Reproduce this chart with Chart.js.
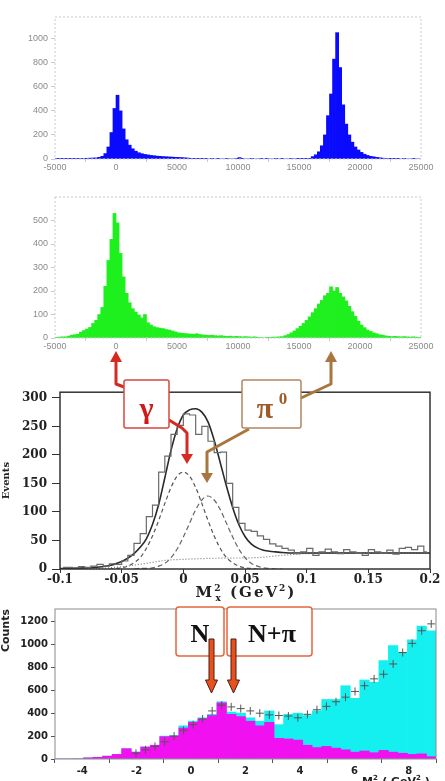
<!DOCTYPE html>
<html>
<head>
<meta charset="utf-8">
<script src="https://cdn.jsdelivr.net/npm/chart.js@4.4.0/dist/chart.umd.min.js"></script>
<style>
html, body { margin:0; padding:0; background:#fff; width:445px; height:781px; overflow:hidden; position:relative; }
canvas { position:absolute; left:0; }
#c1 { top:0; }
#c2 { top:180px; }
#c3 { top:380px; }
#c4 { top:600px; }
svg { position:absolute; left:0; top:0; }
</style>
</head>
<body>
<canvas id="c1" width="445" height="176"></canvas>
<canvas id="c2" width="445" height="176"></canvas>
<canvas id="c3" width="445" height="225"></canvas>
<canvas id="c4" width="445" height="181"></canvas>

<svg width="445" height="781" viewBox="0 0 445 781">
  <!-- gamma / pi0 call-outs -->
  <g fill="none" stroke-linejoin="round" stroke-width="3">
    <path d="M124,387 L116,384 L116,360" stroke="#d42a22"/>
    <path d="M169,420 L182,428 L187,433 L187,455" stroke="#d42a22"/>
    <path d="M301,398 L331,384 L331,360" stroke="#a8763e"/>
    <path d="M249,429 L207,452 L207,474" stroke="#a8763e"/>
  </g>
  <polygon points="110,362 122,362 116,351" fill="#d42a22"/>
  <polygon points="181,454 193,454 187,464" fill="#d42a22"/>
  <polygon points="325,362 337,362 331,351" fill="#a8763e"/>
  <polygon points="201,473 213,473 207,483" fill="#a8763e"/>
  <rect x="124" y="380" width="45" height="48" rx="2" fill="#fff" stroke="#d8483e" stroke-width="1.5"/>
  <text x="146.5" y="418" text-anchor="middle" font-family="Liberation Serif" font-weight="bold" font-size="30" fill="#d01818">γ</text>
  <rect x="242" y="380" width="59" height="48" rx="2" fill="#fff" stroke="#b08660" stroke-width="1.5"/>
  <text x="265" y="418" text-anchor="middle" font-family="Liberation Serif" font-weight="bold" font-size="30" fill="#9c5c28">π</text>
  <text x="283" y="404" text-anchor="middle" font-family="Liberation Serif" font-weight="bold" font-size="17" fill="#9c5c28">0</text>

  <!-- axis title panel 3 -->
  <text x="246" y="597" text-anchor="middle" font-family="DejaVu Serif" font-weight="bold" font-size="15" letter-spacing="2" fill="#222">M<tspan font-size="9" dy="-6">2</tspan><tspan font-size="9" dx="-7" dy="10">x</tspan><tspan dy="-4"> (GeV</tspan><tspan font-size="9" dy="-6">2</tspan><tspan dy="6">)</tspan></text>

  <!-- N / N+pi call-outs -->
  <rect x="176" y="607" width="48" height="49" rx="3" fill="#fff" stroke="#e5653e" stroke-width="1.5"/>
  <rect x="227" y="607" width="85" height="49" rx="3" fill="#fff" stroke="#e5653e" stroke-width="1.5"/>
  <text x="200" y="642" text-anchor="middle" font-family="Liberation Serif" font-weight="bold" font-size="26" fill="#111">N</text>
  <text x="272" y="642" text-anchor="middle" font-family="Liberation Serif" font-weight="bold" font-size="26" fill="#111">N+π</text>
  <polygon points="209,639 214,639 214,680 217.5,680 211.5,693 205.5,680 209,680" fill="#e8501e" stroke="#4a1d0e" stroke-width="1"/>
  <polygon points="231,639 236,639 236,680 239.5,680 233.5,693 227.5,680 231,680" fill="#e8501e" stroke="#4a1d0e" stroke-width="1"/>

  <!-- axis title panel 4 (cut at bottom edge) -->
  <text x="362" y="785" font-family="DejaVu Sans" font-weight="bold" font-size="11" fill="#222">M<tspan font-size="7" dy="-5">2</tspan><tspan font-size="7" dx="-4" dy="8">x</tspan><tspan dy="-3"> ( GeV</tspan><tspan font-size="7" dy="-5">2</tspan><tspan dy="5"> )</tspan></text>
</svg>

<script>
// --- panels 1 and 2: missing mass histograms, 250-wide bins from -5000 to 25000 ---
const binStart12 = -5000;
const binWidth12 = 250;
const blueCounts = [1,1,1,2,2,2,3,3,
    4,5,6,7, 8,9,14,22, 45,100,220,420, 530,400,250,160,
    115,85,65,52, 44,38,34,30, 27,24,22,20, 19,17,16,14,
    13,12,10,8, 3,2,1,1, 1,1,0,1, 0,1,0,0,
    1,0,0,1, 12,1,0,0, 1,0,0,1, 0,1,0,0,
    1,0,1,0, 0,1,0,1, 1,1,2,3, 20,35,60,110,
    200,360,540,830, 1050,760,450,290, 200,140,100,75, 55,40,30,22,
    18,14,10,7, 4,2,1,1, 1,0,1,0, 0,1,0,0];
const greenCounts = [3,4,5,5, 8,12,14,16, 25,32,38,45, 62,75,100,130,
    220,330,420,530, 490,360,260,190, 150,125,110,98, 85,100,65,55,
    48,44,42,40, 36,34,30,26, 22,20,19,18, 17,16,18,15,
    13,12,11,12, 10,9,10,8, 7,8,6,7, 6,5,6,5,
    4,5,3,2, 0,3,3,4, 4,5,6,10, 15,22,30,40,
    50,62,75,90, 108,125,145,160, 180,190,218,200, 215,190,175,158,
    135,112,92,72, 55,44,34,28, 22,18,14,12, 9,7,6,7,
    6,5,6,5, 4,5,4,3];
const xTicks12 = [-5000,0,5000,10000,15000,20000,25000];
const yTicks1 = [0,200,400,600,800,1000];
const yTicks2 = [0,100,200,300,400,500];

// --- panel 3: M_x^2 (GeV^2) fit ---
const histStart3 = -0.1;
const histWidth3 = 0.005;
const histCounts3 = [3,3,2,4,3,5,8,5,9,8, 14,24,45,62,92,112,170,198,236,252,
    272,270,236,250,224,204,205,150,108,80, 68,66,58,52,44,40,36,33,27,30,
    36,24,30,35,30,27,34,30,28,24, 34,30,28,33,26,36,38,34,40,30];
const fitX = [-0.1,-0.09,-0.08,-0.07,-0.06,-0.055,-0.05,-0.045,-0.04,-0.035,
    -0.03,-0.025,-0.02,-0.015,-0.01,-0.005,0,0.005,0.01,0.015,
    0.02,0.025,0.03,0.035,0.04,0.045,0.05,0.055,0.06,0.065,
    0.07,0.075,0.08,0.09,0.1,0.12,0.14,0.16,0.18,0.2];
const fitTotal = [1,1,2,3,6,9,13,19,27,38, 53,78,113,160,208,246,270,279,281,275,
    258,226,186,145,108,78,57,44,37,33, 31,30,29,28,28,28,28,28,28,28];
const fitGamma = [null,null,null,null,0,1,2,5,11,20, 36,58,85,115,143,163,170,163,143,115,
    85,58,36,20,11,5,2,1,0,null, null,null,null,null,null,null,null,null,null,null];
const fitPi0 = [null,null,null,null,null,null,null,null,0,1, 1,2,5,10,20,35,56,80,104,121,
    128,121,104,80,56,35,20,10,5,2, 1,0,0,null,null,null,null,null,null,null];
const bgX = [-0.1,-0.07,-0.05,-0.03,-0.015,0,0.03,0.06,0.08,0.1,0.15,0.2];
const bgY = [0,1,4,10,15,17,19,20,24,27,28,28];
const xTicks3 = [-0.1,-0.05,0,0.05,0.1,0.15,0.2];
const yTicks3 = [0,50,100,150,200,250,300];

// --- panel 4: counts vs M_x^2, bins of 0.35 from -5 to 9 ---
const binStart4 = -5;
const binWidth4 = 0.35;
const cyanCounts = [0,0,5,10,15,25,40,90,60,105, 120,200,205,290,330,360,390,500,410,400,
    360,330,420,300,390,400,380,420,520,520, 640,530,690,670,860,990,930,1040,1160,1120];
const magentaCounts = [0,0,0,10,15,25,40,90,60,105, 120,195,200,270,320,350,380,490,390,370,
    330,290,320,180,175,165,120,100,110,95, 80,60,70,55,75,60,50,40,45,20];
const crossCounts = [null,null,null,null,null,null,null,null,50,80, 110,150,200,250,300,350,420,470,455,440,
    420,400,385,380,375,360,390,430,460,500, 540,590,640,700,740,830,930,1010,1120,1180];
const xTicks4 = [-4,-2,0,2,4,6,8];
const yTicks4 = [0,200,400,600,800,1000,1200];

function binned(start, width, counts) {
    return counts.map((c, i) => ({x: start + width * (i + 0.5), y: c}));
}
function pairs(xs, ys) {
    return xs.map((x, i) => ({x: x, y: ys[i]}));
}
function fixedSize(size) {
    return s => { if (s.isHorizontal()) s.height = size; else s.width = size; };
}
function useTicks(list) {
    return s => { s.ticks = list.map(v => ({value: v})); };
}

// frame round the plot area
const framePlugin = {
    id: 'frame',
    afterDatasetsDraw(chart, args, opts) {
        const {ctx, chartArea: a} = chart;
        ctx.save();
        ctx.strokeStyle = opts.color;
        ctx.lineWidth = opts.width;
        ctx.setLineDash(opts.dash || []);
        ctx.strokeRect(a.left, a.top, a.right - a.left, a.bottom - a.top);
        ctx.restore();
    }
};

const base = {responsive:false, animation:false, devicePixelRatio:1};
const quiet = {legend:{display:false}, tooltip:{enabled:false}};

function histPanel(id, counts, color, yMax, yTicks, xHeight) {
    const lightFont = {family:'Liberation Sans', size:9};
    return new Chart(document.getElementById(id), {
        type: 'bar',
        data: {datasets: [{
            data: binned(binStart12, binWidth12, counts),
            backgroundColor: color, borderWidth: 0,
            barPercentage: 1, categoryPercentage: 1
        }]},
        options: {
            ...base,
            layout: {padding: {top:17, right:24, left:0, bottom:0}},
            plugins: {...quiet, frame: {color:'#c9c9d6', width:1, dash:[2,2]}},
            scales: {
                x: {type:'linear', min:-5000, max:25000, offset:false,
                    afterBuildTicks: useTicks(xTicks12), afterFit: fixedSize(xHeight),
                    border: {display:false},
                    grid: {drawOnChartArea:false, tickLength:3, color:'#c9c9d6'},
                    ticks: {font: lightFont, color:'#8a8a8a', padding:0, autoSkip:false, maxRotation:0,
                            callback: v => String(v)}},
                y: {min:0, max:yMax,
                    afterBuildTicks: useTicks(yTicks), afterFit: fixedSize(55),
                    border: {display:false},
                    grid: {drawOnChartArea:false, tickLength:4, color:'#c9c9d6'},
                    ticks: {font: lightFont, color:'#8a8a8a', padding:3, callback: v => String(v)}}
            }
        },
        plugins: [framePlugin]
    });
}

histPanel('c1', blueCounts, '#0a0aff', 1180, yTicks1, 17);
histPanel('c2', greenCounts, '#1ef01e', 600, yTicks2, 18);

// panel 3
const serifFont = {family:'DejaVu Serif', weight:'bold', size:12};
new Chart(document.getElementById('c3'), {
    type: 'line',
    data: {datasets: [
        {data: binned(histStart3, histWidth3, histCounts3), stepped:'middle',
         borderColor:'#6a6a6a', borderWidth:1.2, pointRadius:0},
        {data: pairs(fitX, fitTotal), cubicInterpolationMode:'monotone',
         borderColor:'#2a2a2a', borderWidth:1.6, pointRadius:0},
        {data: pairs(fitX, fitGamma), cubicInterpolationMode:'monotone', spanGaps:false,
         borderColor:'#555', borderWidth:1.2, borderDash:[4,3], pointRadius:0},
        {data: pairs(fitX, fitPi0), cubicInterpolationMode:'monotone', spanGaps:false,
         borderColor:'#666', borderWidth:1.2, borderDash:[5,3], pointRadius:0},
        {data: pairs(bgX, bgY), cubicInterpolationMode:'monotone',
         borderColor:'#777', borderWidth:1.2, borderDash:[1,2], pointRadius:0}
    ]},
    options: {
        ...base,
        layout: {padding: {top:12, right:15, left:0, bottom:0}},
        plugins: {...quiet, frame: {color:'#333', width:1.5}},
        scales: {
            x: {type:'linear', min:-0.1, max:0.2,
                afterBuildTicks: useTicks(xTicks3), afterFit: fixedSize(36),
                border: {display:false},
                grid: {drawOnChartArea:false, tickLength:4, color:'#333'},
                ticks: {font: serifFont, color:'#222', padding:0, autoSkip:false, maxRotation:0,
                        callback: v => String(Math.round(v * 100) / 100)}},
            y: {min:0, max:310,
                afterBuildTicks: useTicks(yTicks3), afterFit: fixedSize(60),
                border: {display:false},
                grid: {drawOnChartArea:false, tickLength:8, color:'#333'},
                ticks: {font: serifFont, color:'#222', padding:5},
                title: {display:true, text:'Events', padding:0,
                        font:{family:'DejaVu Serif', weight:'bold', size:10}, color:'#222'}}
        }
    },
    plugins: [framePlugin]
});

// panel 4
const boldSans = {family:'DejaVu Sans', weight:'bold', size:10};
new Chart(document.getElementById('c4'), {
    type: 'bar',
    data: {datasets: [
        {type:'line', data: binned(binStart4, binWidth4, crossCounts), showLine:false,
         pointStyle:'cross', pointRadius:4, borderColor:'#555', borderWidth:1, order:0},
        {data: binned(binStart4, binWidth4, magentaCounts), backgroundColor:'#f010f0',
         borderWidth:0, grouped:false, barPercentage:1, categoryPercentage:1, order:1},
        {data: binned(binStart4, binWidth4, cyanCounts), backgroundColor:'#14f0f0',
         borderWidth:0, grouped:false, barPercentage:1, categoryPercentage:1, order:2}
    ]},
    options: {
        ...base,
        layout: {padding: {top:8, right:9, left:0, bottom:0}},
        plugins: {...quiet, frame: {color:'#8a8a8a', width:1}},
        scales: {
            x: {type:'linear', min:-5, max:9, offset:false,
                afterBuildTicks: useTicks(xTicks4), afterFit: fixedSize(22),
                border: {display:false},
                grid: {drawOnChartArea:false, tickLength:4, color:'#555'},
                ticks: {font: boldSans, color:'#222', padding:2, autoSkip:false, maxRotation:0,
                        callback: v => String(v)}},
            y: {min:0, max:1310,
                afterBuildTicks: useTicks(yTicks4), afterFit: fixedSize(55),
                border: {display:false},
                grid: {drawOnChartArea:false, tickLength:4, color:'#555'},
                ticks: {font: boldSans, color:'#222', padding:3, callback: v => String(v)},
                title: {display:true, text:'Counts', align:'end', padding:0,
                        font:{family:'DejaVu Sans', weight:'bold', size:11}, color:'#222'}}
        }
    },
    plugins: [framePlugin]
});
</script>
</body>
</html>
